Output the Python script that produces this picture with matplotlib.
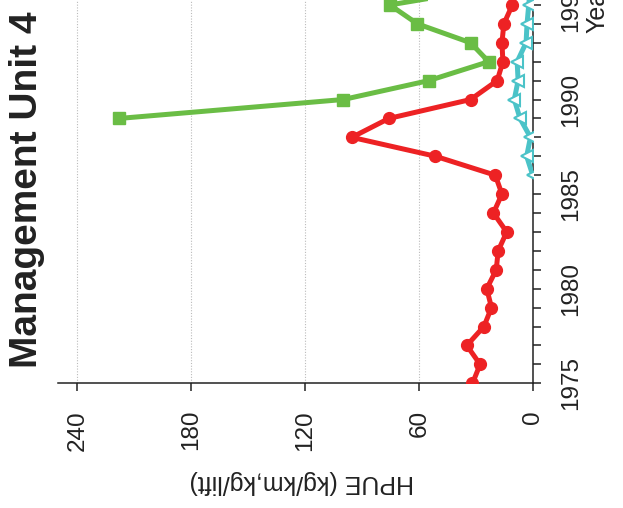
import matplotlib
matplotlib.use("Agg")
import matplotlib.pyplot as plt
from matplotlib.ticker import MultipleLocator

plt.rcParams['font.family'] = ['Liberation Sans', 'DejaVu Sans']

title = "Management Unit 4"
xlabel = "Year"
ylabel = "HPUE (kg/km,kg/lift)"

red_years = list(range(1975, 1997))
red_vals = [32, 28, 35, 26, 22, 24.5, 19.5, 18.5, 14, 21, 16.5, 20,
            51.5, 95.5, 76, 33, 19, 16, 16.5, 15.5, 11, 9]

green_years = list(range(1989, 1997))
green_vals = [218, 100, 55, 23.5, 33, 61, 75.5, 16]

cyan_years = list(range(1986, 1997))
cyan_vals = [0.3, 3.5, 1.5, 7, 10, 8, 8.5, 3.8, 3.3, 2.4, 1.5]

hpue_ticks = [0, 60, 120, 180, 240]
year_ticks = [1975, 1980, 1985, 1990, 1995]

RED = "#ED2224"
GREEN = "#6ABD45"
CYAN = "#4BC3C8"

fig = plt.figure(figsize=(6.23, 5.08), dpi=100)
ax = fig.add_axes([58.3 / 623, (508 - 383.3) / 508, 475 / 623, 383.3 / 508])

# rotated chart: HPUE along horizontal (inverted), Year along vertical
ax.plot(green_vals, green_years, color=GREEN, lw=3.6, marker='s', ms=8,
        mec=GREEN, mfc=GREEN, zorder=3, clip_on=True)
ax.plot(red_vals, red_years, color=RED, lw=3.6, marker='o', ms=8.5,
        mec=RED, mfc=RED, zorder=4, clip_on=True)
ax.plot(cyan_vals, cyan_years, color=CYAN, lw=3.6, marker='<', ms=8,
        mec=CYAN, mfc='white', mew=1.5, zorder=5, clip_on=True)

ax.set_xlim(250, 0)
ax.set_ylim(1975, 1995.26)

ax.set_xticks(hpue_ticks)
ax.set_xticklabels([str(t) for t in hpue_ticks], rotation=90, fontsize=17.5,
                   color='#222222')
ax.yaxis.tick_right()
ax.set_yticks(year_ticks)
ax.yaxis.set_minor_locator(MultipleLocator(1))
ax.set_yticklabels([str(t) for t in year_ticks], rotation=90, fontsize=17.5,
                   va='center', color='#222222')

ax.tick_params(axis='x', direction='out', length=6, width=1.1, pad=13.2,
               color='#222222')
ax.tick_params(axis='y', which='both', direction='out', length=6, width=1.1,
               pad=13.2, color='#222222')

ax.spines['top'].set_visible(False)
ax.spines['left'].set_visible(False)
ax.spines['bottom'].set_linewidth(1.1)
ax.spines['right'].set_linewidth(1.1)
ax.spines['bottom'].set_color('#222222')
ax.spines['right'].set_color('#222222')

ax.xaxis.grid(True, linestyle=(0, (1, 1.5)), color='#BBBBBB', lw=0.8)
ax.yaxis.grid(False)
ax.set_axisbelow(True)

fig.text(27 / 623, 1 - 368 / 508, title, rotation=90, fontsize=28,
         fontweight='bold', ha='center', va='bottom', color='#222222')
fig.text(301.5 / 623, 1 - 481.7 / 508, ylabel, rotation=180, fontsize=18,
         ha='center', va='center', color='#222222')
fig.text(597 / 623, 1 - 33 / 508, xlabel, rotation=90, fontsize=18,
         ha='center', va='bottom', color='#222222')

fig.savefig("out.png", dpi=100)
